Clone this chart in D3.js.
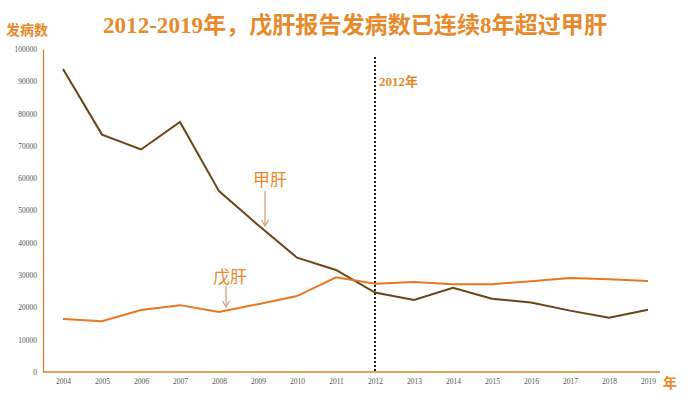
<!DOCTYPE html>
<html>
<head>
<meta charset="utf-8">
<script src="https://cdn.jsdelivr.net/npm/d3@7"></script>
<style>
html,body{margin:0;padding:0;background:#fff;}
svg{display:block;}
</style>
</head>
<body>
<svg id="chart" width="696" height="396"></svg>
<script>
const years = [2004,2005,2006,2007,2008,2009,2010,2011,2012,2013,2014,2015,2016,2017,2018,2019];
const hepA = [93800,73500,68900,77400,56000,45500,35400,31600,24600,22300,26100,22700,21500,19000,16800,19300];
const hepE = [16400,15700,19200,20700,18600,21000,23500,29300,27300,27900,27200,27200,28100,29100,28700,28200];
const yTicks = [0,10000,20000,30000,40000,50000,60000,70000,80000,90000,100000];
const titleText = "2012-2019年，戊肝报告发病数已连续8年超过甲肝";
const markYear = 2012;

const svg = d3.select("#chart");
const serif = "'Liberation Serif','Noto Sans CJK SC',serif";
const orange = "#e8892a";

const x = d3.scalePoint().domain(years).range([63, 648]);
const y = d3.scaleLinear().domain([0, 100000]).range([372, 49]);

// title
svg.append("text").attr("x", 355).attr("y", 33).attr("text-anchor", "middle")
  .attr("font-family", serif).attr("font-weight", "bold").attr("font-size", 23)
  .attr("textLength", 504).attr("lengthAdjust", "spacingAndGlyphs")
  .attr("fill", orange).text(titleText);

svg.append("text").attr("x", 6).attr("y", 35)
  .attr("font-family", serif).attr("font-weight", "bold").attr("font-size", 14)
  .attr("fill", orange).text("发病数");

svg.append("text").attr("x", 663).attr("y", 388)
  .attr("font-family", serif).attr("font-weight", "bold").attr("font-size", 14)
  .attr("fill", orange).text("年");

// axes
const yAxis = d3.axisLeft(y).tickValues(yTicks).tickFormat(d3.format("d")).tickSize(0).tickPadding(6);
const gy = svg.append("g").attr("transform", "translate(43,0)").call(yAxis);
gy.select(".domain").attr("stroke", "#d9822b").attr("stroke-width", 1.3);
gy.selectAll("text").attr("font-family", serif).attr("font-size", 7.5).attr("fill", "#555");

const xAxis = d3.axisBottom(x).tickSize(0).tickPadding(7);
const gx = svg.append("g").attr("transform", "translate(0,372)").call(xAxis);
gx.select(".domain").attr("d", "M43,0H660").attr("stroke", "#d9822b").attr("stroke-width", 1.3);
gx.selectAll("text").attr("font-family", serif).attr("font-size", 7.5).attr("fill", "#555");

// vertical dotted marker
svg.append("line").attr("x1", x(markYear)).attr("x2", x(markYear))
  .attr("y1", 57).attr("y2", 372)
  .attr("stroke", "#2a1a08").attr("stroke-width", 2).attr("stroke-dasharray", "2,2");
svg.append("text").attr("x", x(markYear) + 4).attr("y", 86)
  .attr("font-family", serif).attr("font-weight", "bold").attr("font-size", 13)
  .attr("fill", orange).text(markYear + "年");

// lines
const line = (vals) => d3.line().x((d, i) => x(years[i])).y(d => y(d))(vals);
svg.append("path").attr("d", line(hepA)).attr("fill", "none")
  .attr("stroke", "#6b4414").attr("stroke-width", 2);
svg.append("path").attr("d", line(hepE)).attr("fill", "none")
  .attr("stroke", "#e87722").attr("stroke-width", 2);

// annotations
const arrowColor = "#d9a27c";
function annot(label, tx, ty, ax, ay1, ay2) {
  svg.append("text").attr("x", tx).attr("y", ty).attr("text-anchor", "middle")
    .attr("font-family", serif).attr("font-size", 17).attr("fill", orange).text(label);
  svg.append("line").attr("x1", ax).attr("x2", ax).attr("y1", ay1).attr("y2", ay2)
    .attr("stroke", arrowColor).attr("stroke-width", 1.3);
  svg.append("path").attr("d", `M${ax-3.5},${ay2-6}L${ax},${ay2}L${ax+3.5},${ay2-6}`)
    .attr("fill", "none").attr("stroke", arrowColor).attr("stroke-width", 1.3);
}
annot("甲肝", 270, 186, 265, 191, 226);
annot("戊肝", 230, 283, 226, 286, 307);
</script>
</body>
</html>
